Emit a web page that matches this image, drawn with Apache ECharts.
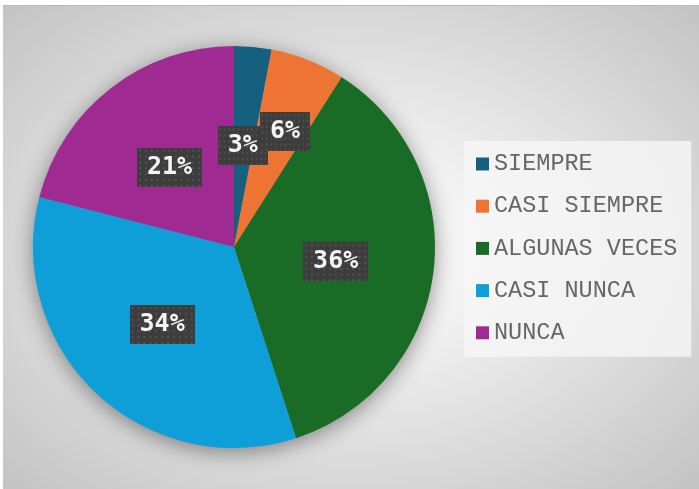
<!DOCTYPE html>
<html>
<head>
<meta charset="utf-8">
<script src="https://cdn.jsdelivr.net/npm/echarts@6/dist/echarts.min.js"></script>
<style>
  html, body { margin: 0; padding: 0; background: #fff; }
  #frame {
    position: absolute; left: 3px; top: 5px; width: 696px; height: 484px;
    border-top: 1px solid #b9b9b9; box-sizing: border-box;
    background: radial-gradient(ellipse farthest-corner at 50% 50%, #ffffff 0%, #f0f0f0 30%, #c3c3c3 100%);
  }
  #chart { position: absolute; left: 0; top: 0; width: 699px; height: 489px; }
</style>
</head>
<body>
<div id="frame"></div>
<div id="chart"></div>
<script>
'use strict';

var categories = ['SIEMPRE', 'CASI SIEMPRE', 'ALGUNAS VECES', 'CASI NUNCA', 'NUNCA'];
var values = [3, 6, 36, 34, 21];
var colors = ['#16607f', '#ee7433', '#1a6b25', '#0f9fd8', '#9f2b92'];

// dotted texture for the label boxes
function makeDots() {
    var c = document.createElement('canvas');
    c.width = 66; c.height = 40;
    var ctx = c.getContext('2d');
    ctx.fillStyle = '#3d3d3d';
    ctx.fillRect(0, 0, c.width, c.height);
    ctx.fillStyle = '#535353';
    for (var y = 2; y < c.height; y += 6) {
        for (var x = 2; x < c.width; x += 6) {
            ctx.fillRect(x, y, 2, 2);
        }
    }
    return c;
}
var dots = makeDots();

var chart = echarts.init(document.getElementById('chart'));

var pieData = [];
for (var i = 0; i < categories.length; i ++) {
    var item = { name: categories[i], value: values[i], itemStyle: { color: colors[i] } };
    if (i == 1) {
        item.label = { offset: [13, -19] };
    }
    pieData.push(item);
}

var option = {
    animation: false,
    legend: {
        orient: 'vertical',
        left: 464,
        top: 141,
        icon: 'rect',
        itemWidth: 13,
        itemHeight: 13,
        itemGap: 18.2,
        padding: [11, 14, 12, 12],
        backgroundColor: 'rgba(246,246,246,0.8)',
        textStyle: {
            fontFamily: 'Liberation Mono',
            fontSize: 23.5,
            color: '#666666'
        },
        data: categories
    },
    series: [
        {
            // soft shadow under the pie
            type: 'pie',
            silent: true,
            center: [234, 247],
            radius: 200,
            label: { show: false },
            itemStyle: {
                color: '#888',
                shadowBlur: 22,
                shadowOffsetY: 4,
                shadowColor: 'rgba(0,0,0,0.45)'
            },
            data: [1]
        },
        {
            type: 'pie',
            center: [234, 247],
            radius: 201,
            startAngle: 90,
            clockwise: true,
            avoidLabelOverlap: false,
            minShowLabelAngle: 0,
            labelLayout: { hideOverlap: false },
            labelLine: { show: false },
            label: {
                show: true,
                position: 'inside',
                formatter: '{c}%',
                offset: [-1, 2],
                fontFamily: 'DejaVu Sans Mono',
                fontWeight: 'bold',
                fontSize: 25,
                lineHeight: 25,
                color: '#f4f4f4',
                backgroundColor: { image: dots },
                padding: [7, 10, 7, 10],
                shadowBlur: 8,
                shadowOffsetX: 3,
                shadowOffsetY: 3,
                shadowColor: 'rgba(0,0,0,0.45)'
            },
            data: pieData
        }
    ]
};

chart.setOption(option);
</script>
</body>
</html>
